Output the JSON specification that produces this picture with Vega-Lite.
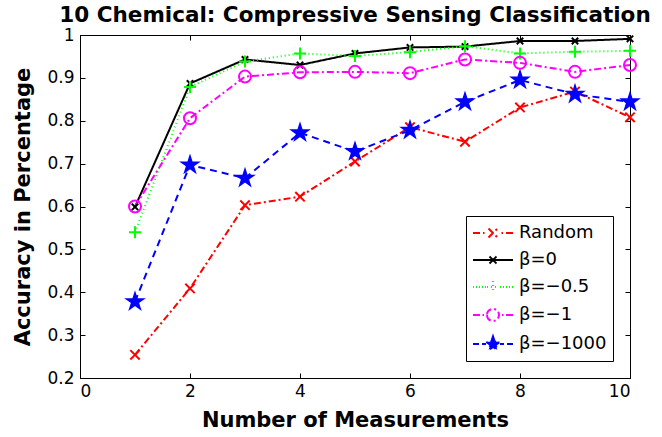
{
  "$schema": "https://vega.github.io/schema/vega-lite/v6.json",
  "width": 550,
  "height": 343,
  "autosize": "none",
  "padding": {"left": 80, "top": 35, "right": 32, "bottom": 59},
  "background": "white",
  "title": {"text": "10 Chemical: Compressive Sensing Classification", "fontSize": 21.5, "fontWeight": "bold", "font": "DejaVu Sans", "anchor": "middle", "baseline": "alphabetic", "offset": 11, "dy": 28, "color": "black"},
  "data": {"values": [
    {"x": 1, "y": 0.254, "s": "Random"},
    {"x": 2, "y": 0.409, "s": "Random"},
    {"x": 3, "y": 0.603, "s": "Random"},
    {"x": 4, "y": 0.623, "s": "Random"},
    {"x": 5, "y": 0.705, "s": "Random"},
    {"x": 6, "y": 0.785, "s": "Random"},
    {"x": 7, "y": 0.751, "s": "Random"},
    {"x": 8, "y": 0.831, "s": "Random"},
    {"x": 9, "y": 0.868, "s": "Random"},
    {"x": 10, "y": 0.808, "s": "Random"},
    {"x": 1, "y": 0.599, "s": "β=0"},
    {"x": 2, "y": 0.887, "s": "β=0"},
    {"x": 3, "y": 0.943, "s": "β=0"},
    {"x": 4, "y": 0.930, "s": "β=0"},
    {"x": 5, "y": 0.957, "s": "β=0"},
    {"x": 6, "y": 0.971, "s": "β=0"},
    {"x": 7, "y": 0.973, "s": "β=0"},
    {"x": 8, "y": 0.986, "s": "β=0"},
    {"x": 9, "y": 0.986, "s": "β=0"},
    {"x": 10, "y": 0.991, "s": "β=0"},
    {"x": 1, "y": 0.540, "s": "β=−0.5"},
    {"x": 2, "y": 0.879, "s": "β=−0.5"},
    {"x": 3, "y": 0.938, "s": "β=−0.5"},
    {"x": 4, "y": 0.957, "s": "β=−0.5"},
    {"x": 5, "y": 0.951, "s": "β=−0.5"},
    {"x": 6, "y": 0.960, "s": "β=−0.5"},
    {"x": 7, "y": 0.974, "s": "β=−0.5"},
    {"x": 8, "y": 0.957, "s": "β=−0.5"},
    {"x": 9, "y": 0.961, "s": "β=−0.5"},
    {"x": 10, "y": 0.963, "s": "β=−0.5"},
    {"x": 1, "y": 0.600, "s": "β=−1"},
    {"x": 2, "y": 0.806, "s": "β=−1"},
    {"x": 3, "y": 0.903, "s": "β=−1"},
    {"x": 4, "y": 0.913, "s": "β=−1"},
    {"x": 5, "y": 0.914, "s": "β=−1"},
    {"x": 6, "y": 0.911, "s": "β=−1"},
    {"x": 7, "y": 0.943, "s": "β=−1"},
    {"x": 8, "y": 0.935, "s": "β=−1"},
    {"x": 9, "y": 0.914, "s": "β=−1"},
    {"x": 10, "y": 0.930, "s": "β=−1"},
    {"x": 1, "y": 0.378, "s": "β=−1000"},
    {"x": 2, "y": 0.697, "s": "β=−1000"},
    {"x": 3, "y": 0.666, "s": "β=−1000"},
    {"x": 4, "y": 0.772, "s": "β=−1000"},
    {"x": 5, "y": 0.728, "s": "β=−1000"},
    {"x": 6, "y": 0.778, "s": "β=−1000"},
    {"x": 7, "y": 0.844, "s": "β=−1000"},
    {"x": 8, "y": 0.895, "s": "β=−1000"},
    {"x": 9, "y": 0.862, "s": "β=−1000"},
    {"x": 10, "y": 0.844, "s": "β=−1000"}
  ]},
  "layer": [
    {
      "mark": {"type": "line", "strokeWidth": 2},
      "encoding": {
        "x": {"field": "x", "type": "quantitative", "scale": {"domain": [0, 10], "nice": false, "zero": false},
              "axis": {"orient": "bottom", "values": [0, 2, 4, 6, 8, 10], "title": "Number of Measurements", "labelPadding": 10, "titlePadding": 10}},
        "y": {"field": "y", "type": "quantitative", "scale": {"domain": [0.2, 1], "nice": false, "zero": false},
              "axis": {"orient": "left", "values": [0.2, 0.3, 0.4, 0.5, 0.6, 0.7, 0.8, 0.9, 1], "format": ".1~f", "title": "Accuracy in Percentage", "labelPadding": 11, "titlePadding": 13}},
        "stroke": {"field": "s", "type": "nominal",
                  "scale": {"domain": ["Random", "β=0", "β=−0.5", "β=−1", "β=−1000"], "range": ["#ff0000", "#000000", "#00ff00", "#ff00ff", "#0000ff"]},
                  "legend": {
                    "orient": "bottom-right", "offset": 17, "title": null,
                    "strokeColor": "black", "fillColor": "white", "padding": 6,
                    "labelFont": "DejaVu Sans", "labelFontSize": 18, "labelColor": "black",
                    "symbolSize": 400, "symbolStrokeWidth": 2, "symbolFillColor": "transparent", "labelOffset": 25, "rowPadding": 7,
                    "encode": {"symbols": {"update": {
                      "shape": {"signal": "datum.value === 'Random' ? 'M-1,0H-0.3M0,0H0.15M0.55,-0.45L1.45,0.45M0.55,0.45L1.45,-0.45M1.85,0H2M2.3,0H3' : datum.value === 'β=0' ? 'M-1,0H3M0.65,-0.35L1.35,0.35M0.65,0.35L1.35,-0.35' : datum.value === 'β=−0.5' ? 'M-1,0H-0.9M-0.7,0H-0.6M-0.4,0H-0.3M-0.1,0H0M0.2,0H0.3M0.4,0H1.6M1,-0.6V0.6M1.7,0H1.8M2,0H2.1M2.3,0H2.4M2.6,0H2.7M2.9,0H3' : datum.value === 'β=−1' ? 'M-1,0H-0.3M-0.05,0H0.1M0.4,0A0.6,0.6 0 1,0 1.6,0A0.6,0.6 0 1,0 0.4,0M1.9,0H2.05M2.3,0H3' : 'M-1,0H-0.4M-0.1,0H0.3M1.7,0H2.1M2.4,0H3M1,-0.75L1.169,-0.232L1.713,-0.232L1.272,0.089L1.441,0.607L1,0.287L0.559,0.607L0.728,0.089L0.287,-0.232L0.831,-0.232Z'"},
                      "fill": {"signal": "datum.value === 'β=−1000' ? '#0000ff' : 'transparent'"},
                      "strokeWidth": {"value": 2}
                    }}}
                  }},
        "strokeDash": {"field": "s", "type": "nominal",
                       "scale": {"domain": ["Random", "β=0", "β=−0.5", "β=−1", "β=−1000"], "range": [[7, 3, 2, 3], [1, 0], [1, 3], [7, 3, 2, 3], [7, 5]]},
                       "legend": null}
      }
    },
    {
      "transform": [{"filter": "datum.s === 'Random'"}],
      "mark": {"type": "point", "strokeWidth": 2, "filled": false, "fill": "transparent", "size": 400, "opacity": 1, "shape": "M-0.47,-0.47L0.47,0.47M-0.47,0.47L0.47,-0.47"},
      "encoding": {
        "x": {"field": "x", "type": "quantitative", "axis": {"orient": "top", "values": [0, 2, 4, 6, 8, 10], "labels": false, "title": null}},
        "y": {"field": "y", "type": "quantitative", "axis": {"orient": "right", "values": [0.2, 0.3, 0.4, 0.5, 0.6, 0.7, 0.8, 0.9, 1], "labels": false, "title": null}},
        "stroke": {"field": "s", "type": "nominal", "legend": null}
      }
    },
    {
      "transform": [{"filter": "datum.s === 'β=0'"}],
      "mark": {"type": "point", "strokeWidth": 2, "filled": false, "fill": "transparent", "size": 400, "opacity": 1, "shape": "M-0.32,-0.32L0.32,0.32M-0.32,0.32L0.32,-0.32"},
      "encoding": {
        "x": {"field": "x", "type": "quantitative", "axis": null},
        "y": {"field": "y", "type": "quantitative", "axis": null},
        "stroke": {"field": "s", "type": "nominal", "legend": null}
      }
    },
    {
      "transform": [{"filter": "datum.s === 'β=−0.5'"}],
      "mark": {"type": "point", "strokeWidth": 2, "filled": false, "fill": "transparent", "size": 400, "opacity": 1, "shape": "M-0.6,0H0.6M0,-0.6V0.6"},
      "encoding": {
        "x": {"field": "x", "type": "quantitative", "axis": null},
        "y": {"field": "y", "type": "quantitative", "axis": null},
        "stroke": {"field": "s", "type": "nominal", "legend": null}
      }
    },
    {
      "transform": [{"filter": "datum.s === 'β=−1'"}],
      "mark": {"type": "point", "strokeWidth": 2, "filled": false, "fill": "transparent", "size": 400, "opacity": 1, "shape": "M-0.6,0A0.6,0.6 0 1,0 0.6,0A0.6,0.6 0 1,0 -0.6,0Z"},
      "encoding": {
        "x": {"field": "x", "type": "quantitative", "axis": null},
        "y": {"field": "y", "type": "quantitative", "axis": null},
        "stroke": {"field": "s", "type": "nominal", "legend": null}
      }
    },
    {
      "transform": [{"filter": "datum.s === 'β=−1000'"}],
      "mark": {"type": "point", "strokeWidth": 1.5, "filled": false, "fill": "#0000ff", "fillOpacity": 1, "size": 400, "opacity": 1, "shape": "M0,-0.9L0.2,-0.278L0.856,-0.278L0.327,0.106L0.529,0.728L0,0.344L-0.529,0.728L-0.327,0.106L-0.856,-0.278L-0.2,-0.278Z"},
      "encoding": {
        "x": {"field": "x", "type": "quantitative", "axis": null},
        "y": {"field": "y", "type": "quantitative", "axis": null},
        "stroke": {"field": "s", "type": "nominal", "legend": null}
      }
    }
  ],
  "resolve": {"axis": {"x": "independent", "y": "independent"}},
  "config": {
    "font": "DejaVu Sans",
    "view": {"stroke": "black", "strokeWidth": 1},
    "axis": {
      "grid": false, "domainColor": "black", "domainWidth": 1, "tickColor": "black", "tickSize": -5, "tickWidth": 1,
      "labelColor": "black", "labelFont": "DejaVu Sans", "labelFontSize": 17,
      "titleColor": "black", "titleFont": "DejaVu Sans", "titleFontSize": 21, "titleFontWeight": "bold"
    }
  }
}
